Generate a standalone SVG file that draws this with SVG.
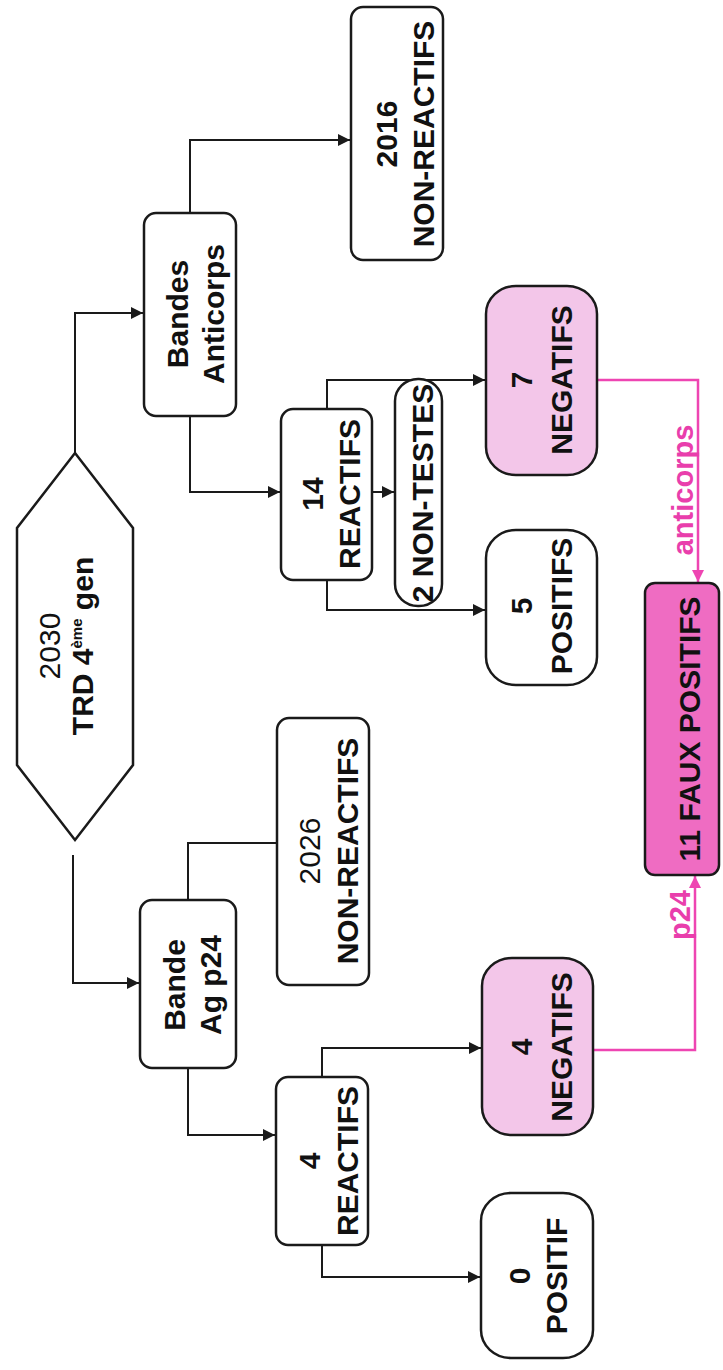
<svg xmlns="http://www.w3.org/2000/svg" width="723" height="1370" viewBox="0 0 723 1370">
<style>
.box{fill:#fff;stroke:#1a1a1a;stroke-width:2.5}
.neg{fill:#f3c6e9;stroke:#1a1a1a;stroke-width:2.5}
.faux{fill:#ef6cc2;stroke:#1a1a1a;stroke-width:2.5}
.ln{fill:none;stroke:#1a1a1a;stroke-width:2}
.pk{fill:none;stroke:#ee45b2;stroke-width:2.5}
text{font-family:"Liberation Sans",Arial,sans-serif;font-size:30px;fill:#111;text-anchor:middle}
.b{font-weight:bold}
.r{font-weight:normal}
.lbl{font-weight:bold;fill:#e93eac;font-size:29px}
</style>
<defs>
<marker id="ah" viewBox="0 0 12 12" refX="12" refY="6" markerWidth="12" markerHeight="12" markerUnits="userSpaceOnUse" orient="auto">
<path d="M0,0 L12,6 L0,12 z" fill="#1a1a1a"/>
</marker>
<marker id="ahp" viewBox="0 0 12 12" refX="12" refY="6" markerWidth="12" markerHeight="12" markerUnits="userSpaceOnUse" orient="auto">
<path d="M0,0 L12,6 L0,12 z" fill="#ee45b2"/>
</marker>
</defs>
<g id="connectors">
<path class="ln" d="M75,453 V313 H143" marker-end="url(#ah)"/>
<path class="ln" d="M73,855 V983 H139" marker-end="url(#ah)"/>
<path class="ln" d="M190,213 V140 H350" marker-end="url(#ah)"/>
<path class="ln" d="M190,416 V492 H280" marker-end="url(#ah)"/>
<path class="ln" d="M372,492 H394" marker-end="url(#ah)"/>
<path class="ln" d="M327,409 V380 H485" marker-end="url(#ah)"/>
<path class="ln" d="M327,580 V610 H485" marker-end="url(#ah)"/>
<path class="ln" d="M188,900 V843 H277"/>
<path class="ln" d="M188,1068 V1135 H275" marker-end="url(#ah)"/>
<path class="ln" d="M322,1077 V1048 H481" marker-end="url(#ah)"/>
<path class="ln" d="M322,1245 V1277 H480" marker-end="url(#ah)"/>
<path class="pk" d="M597,380 H698 V582" marker-end="url(#ahp)"/>
<path class="pk" d="M593,1050 H695 V876" marker-end="url(#ahp)"/>
<text class="lbl" transform="rotate(-90)" x="-490" y="693">anticorps</text>
<text class="lbl" transform="rotate(-90)" x="-915" y="690">p24</text>
</g>
<g id="n-trd">
<polygon class="box" points="75,453 133,528 133,765 75,840 17,765 17,528"/>
<text transform="rotate(-90)"><tspan class="r" x="-646" y="60">2030</tspan><tspan class="b" x="-646" y="93">TRD 4<tspan font-size="15" dy="-11">ème</tspan><tspan dy="11"> gen</tspan></tspan></text>
</g>
<g id="n-bandes-ac">
<rect class="box" x="144" y="213" width="92" height="203" rx="12"/>
<text class="b" transform="rotate(-90)"><tspan x="-314" y="188">Bandes</tspan><tspan x="-314" y="224">Anticorps</tspan></text>
</g>
<g id="n-2016">
<rect class="box" x="351" y="7" width="92" height="253" rx="12"/>
<text class="b" transform="rotate(-90)"><tspan x="-134" y="397">2016</tspan><tspan x="-134" y="434">NON-REACTIFS</tspan></text>
</g>
<g id="n-14">
<rect class="box" x="281" y="409" width="91" height="171" rx="12"/>
<text class="b" transform="rotate(-90)"><tspan x="-494" y="323">14</tspan><tspan x="-494" y="360">REACTIFS</tspan></text>
</g>
<g id="n-nontestes">
<rect class="box" x="395" y="379" width="47" height="227" rx="23" ry="22"/>
<text class="b" transform="rotate(-90)" x="-493" y="433" font-size="27.5">2 NON-TESTES</text>
</g>
<g id="n-7neg">
<rect class="neg" x="486" y="286" width="111" height="189" rx="30" ry="28"/>
<text class="b" transform="rotate(-90)"><tspan x="-380" y="532">7</tspan><tspan x="-380" y="572">NEGATIFS</tspan></text>
</g>
<g id="n-5pos">
<rect class="box" x="486" y="530" width="111" height="155" rx="30" ry="28"/>
<text class="b" transform="rotate(-90)"><tspan x="-606" y="532">5</tspan><tspan x="-606" y="572">POSITIFS</tspan></text>
</g>
<g id="n-bande-p24">
<rect class="box" x="140" y="900" width="96" height="168" rx="12"/>
<text class="b" transform="rotate(-90)"><tspan x="-985" y="185">Bande</tspan><tspan x="-985" y="221">Ag p24</tspan></text>
</g>
<g id="n-2026">
<rect class="box" x="277" y="718" width="92" height="267" rx="12"/>
<text transform="rotate(-90)"><tspan class="r" x="-851" y="320">2026</tspan><tspan class="b" x="-851" y="358">NON-REACTIFS</tspan></text>
</g>
<g id="n-4react">
<rect class="box" x="276" y="1077" width="92" height="168" rx="12"/>
<text class="b" transform="rotate(-90)"><tspan x="-1161" y="320">4</tspan><tspan x="-1161" y="358">REACTIFS</tspan></text>
</g>
<g id="n-4neg">
<rect class="neg" x="482" y="958" width="111" height="177" rx="30" ry="28"/>
<text class="b" transform="rotate(-90)"><tspan x="-1047" y="532">4</tspan><tspan x="-1047" y="572">NEGATIFS</tspan></text>
</g>
<g id="n-0pos">
<rect class="box" x="481" y="1193" width="112" height="165" rx="30" ry="28"/>
<text class="b" transform="rotate(-90)"><tspan x="-1276" y="530">0</tspan><tspan x="-1276" y="567">POSITIF</tspan></text>
</g>
<g id="n-faux">
<rect class="faux" x="645" y="583" width="74" height="292" rx="10"/>
<text class="b" transform="rotate(-90)" x="-729" y="700" font-size="28.5">11 FAUX POSITIFS</text>
</g>
</svg>
